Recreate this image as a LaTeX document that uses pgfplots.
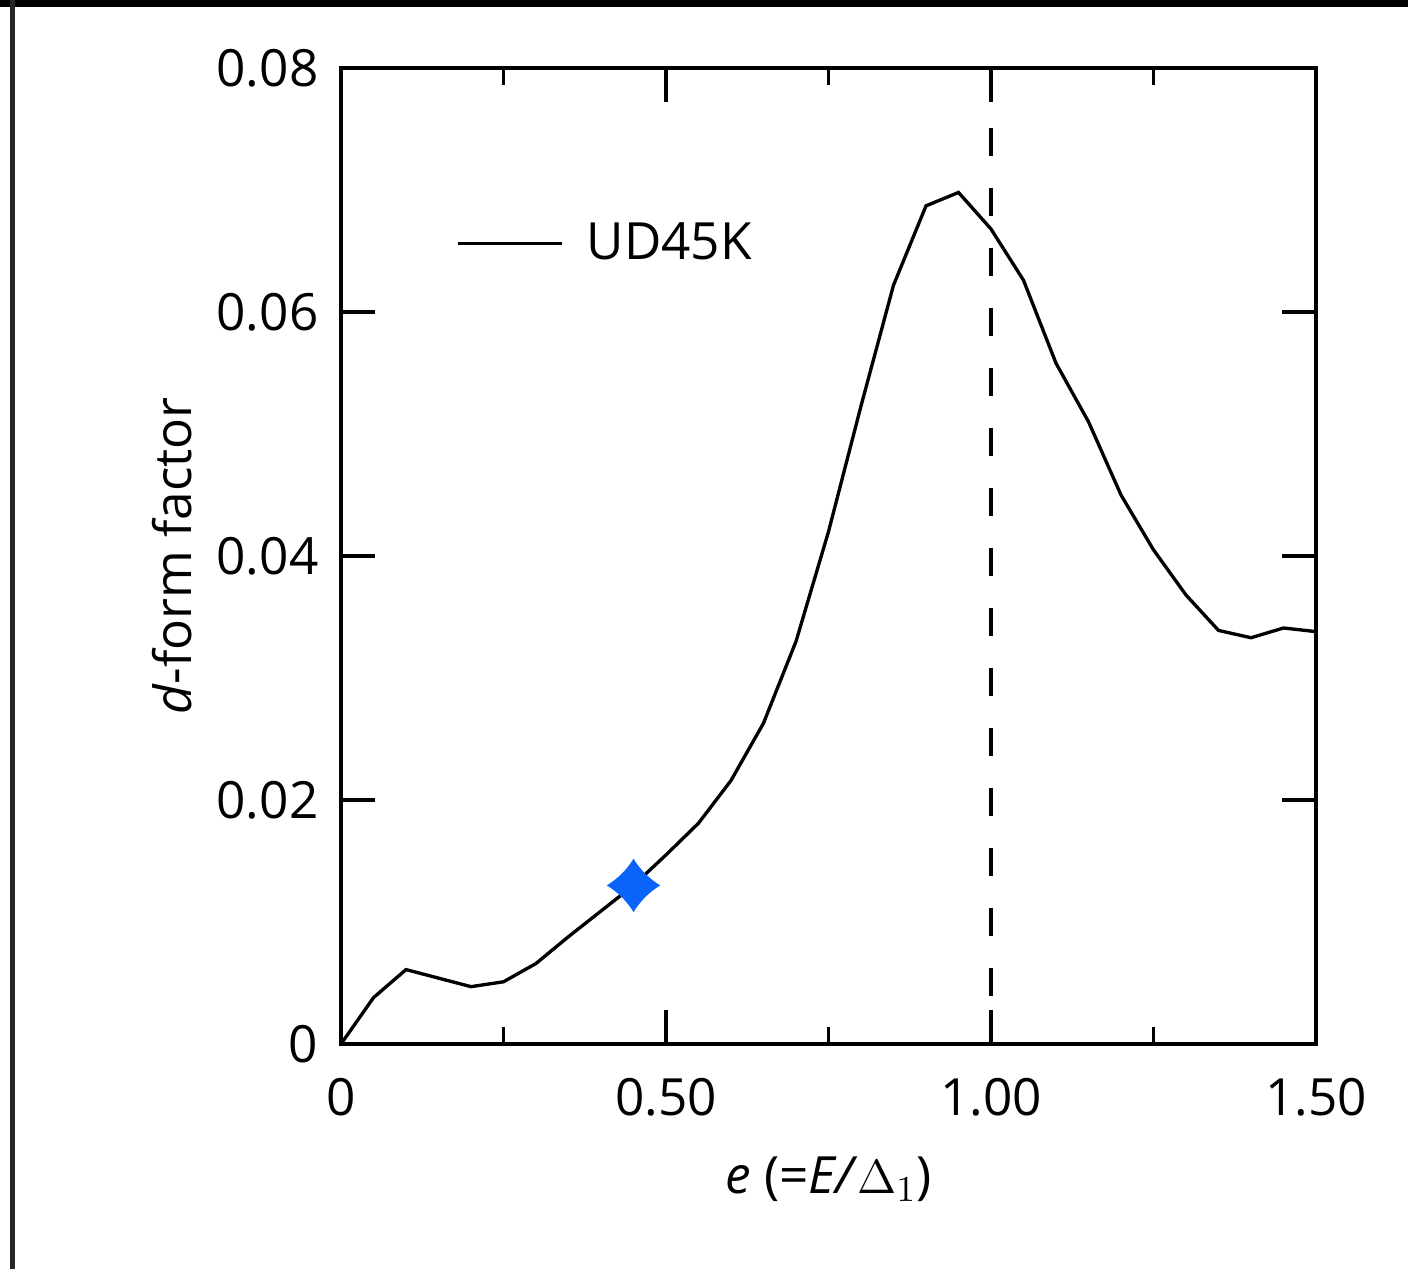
\documentclass[border=0pt]{standalone}
\usepackage{pgfplots}
\pgfplotsset{compat=1.18}
\usepackage{pgfplotstable}
\usepackage{fontspec}
\setmainfont{Open Sans}
\definecolor{starblue}{RGB}{10,100,250}
\pgfdeclareplotmark{fourstar}{%
  \pgfpathmoveto{\pgfqpoint{0pt}{\pgfplotmarksize}}%
  \pgfpathquadraticcurveto{\pgfqpoint{0.38\pgfplotmarksize}{0.38\pgfplotmarksize}}{\pgfqpoint{\pgfplotmarksize}{0pt}}%
  \pgfpathquadraticcurveto{\pgfqpoint{0.38\pgfplotmarksize}{-0.38\pgfplotmarksize}}{\pgfqpoint{0pt}{-\pgfplotmarksize}}%
  \pgfpathquadraticcurveto{\pgfqpoint{-0.38\pgfplotmarksize}{-0.38\pgfplotmarksize}}{\pgfqpoint{-\pgfplotmarksize}{0pt}}%
  \pgfpathquadraticcurveto{\pgfqpoint{-0.38\pgfplotmarksize}{0.38\pgfplotmarksize}}{\pgfqpoint{0pt}{\pgfplotmarksize}}%
  \pgfpathclose
  \pgfusepathqfill
}
\newcommand{\chartfont}{\fontsize{15.4}{18}\selectfont}
\pgfplotstableread{
x y
0.00 0.0000
0.05 0.0038
0.10 0.0061
0.15 0.0054
0.20 0.0047
0.25 0.0051
0.30 0.0066
0.35 0.0088
0.40 0.0109
0.45 0.0130
0.50 0.0155
0.55 0.0181
0.60 0.0216
0.65 0.0263
0.70 0.0330
0.75 0.0420
0.80 0.0523
0.85 0.0622
0.90 0.0687
0.95 0.0698
1.00 0.0668
1.05 0.0626
1.10 0.0558
1.15 0.0510
1.20 0.0450
1.25 0.0405
1.30 0.0368
1.35 0.0339
1.40 0.0333
1.45 0.0341
1.50 0.0338
}\curvedata
\begin{document}
\begin{tikzpicture}
\path[use as bounding box] (0,0) rectangle (422.4pt,380.7pt);
\fill[black] (0,378.6pt) rectangle (422.4pt,380.7pt);
\fill[black!85] (3.0pt,0) rectangle (4.5pt,380.7pt);
\begin{axis}[
  at={(102.3pt,67.5pt)}, anchor=south west,
  scale only axis, width=292.5pt, height=292.8pt,
  xmin=0, xmax=1.5, ymin=0, ymax=0.08,
  scaled ticks=false,
  axis line style={line width=1.0pt},
  every tick/.style={black, line width=1.0pt},
  every minor tick/.style={black, line width=1.0pt},
  tick align=inside,
  major tick length=10.3pt,
  minor tick length=5.1pt,
  xtick={0,0.5,1,1.5},
  xticklabels={0,0.50,1.00,1.50},
  minor xtick={0.25,0.75,1.25},
  ytick={0,0.02,0.04,0.06,0.08},
  yticklabels={0,0.02,0.04,0.06,0.08},
  tick label style={font=\chartfont, text=black},
  yticklabel style={inner xsep=6.6pt},
  xticklabel style={inner ysep=10pt},
  label style={font=\chartfont, text=black},
  xlabel={\textit{e} (=\textit{E/}$\Delta_1$)},
  ylabel={\textit{d}-form factor},
  xlabel style={at={(axis description cs:0.5,-0.139)}, anchor=center},
  ylabel style={at={(axis description cs:-0.173,0.5)}, anchor=center},
  legend image code/.code={\draw[#1] (0pt,0pt) -- (31pt,0pt);},
  legend style={at={(axis cs:0.178,0.0656)}, anchor=west, draw=none, fill=none,
    inner sep=0pt, outer sep=0pt, font=\chartfont, text=black,
    nodes={inner sep=0pt},
    /tikz/every odd column/.append style={column sep=7pt}},
]
\addplot[black, line width=1.0pt, no marks] table[x=x,y=y] {\curvedata};
\addlegendentry{UD45K}
\addplot[forget plot, black, line width=1.0pt, dash pattern=on 8.5pt off 9.5pt] coordinates {(1,0.08) (1,0)};
\addplot[forget plot, only marks, mark=fourstar, mark size=8pt, color=starblue] coordinates {(0.45,0.0130)};
\end{axis}
\end{tikzpicture}
\end{document}
